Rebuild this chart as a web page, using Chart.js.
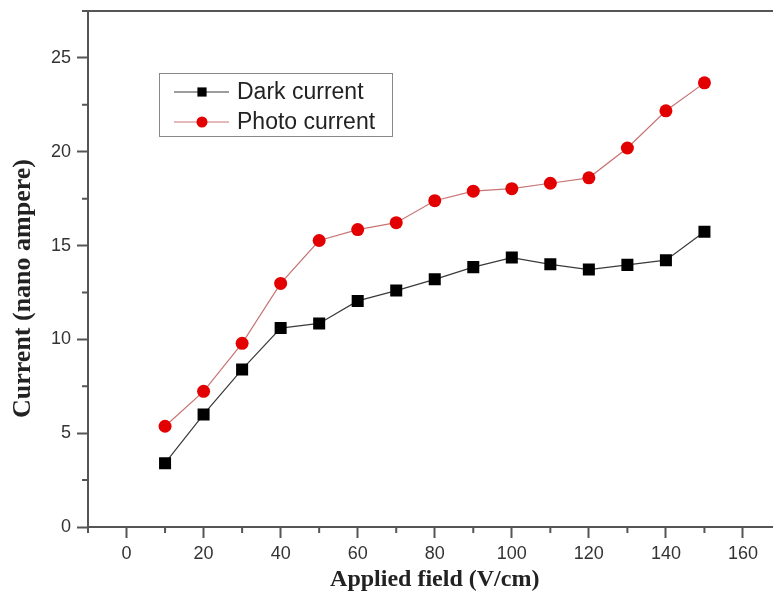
<!DOCTYPE html>
<html>
<head>
<meta charset="utf-8">
<script src="https://cdn.jsdelivr.net/npm/chart.js@4.4.0/dist/chart.umd.min.js"></script>
<style>
  html, body { margin: 0; padding: 0; background: #fff; overflow: hidden; }
  #wrap { width: 790px; height: 608px; }
</style>
</head>
<body>
<div id="wrap"><canvas id="chart" width="790" height="608"></canvas></div>
<script>
// values
const fields = [10, 20, 30, 40, 50, 60, 70, 80, 90, 100, 110, 120, 130, 140, 150];
const darkCurrent = [3.4, 6.0, 8.4, 10.6, 10.85, 12.05, 12.6, 13.2, 13.85, 14.36, 14.0, 13.72, 13.97, 14.22, 15.74];
const photoCurrent = [5.37, 7.23, 9.79, 12.98, 15.27, 15.85, 16.22, 17.39, 17.9, 18.03, 18.32, 18.61, 20.2, 22.18, 23.67];

const xMajor = [0, 20, 40, 60, 80, 100, 120, 140, 160];
const xMinor = [-10, 10, 30, 50, 70, 90, 110, 130, 150, 170];
const yMajor = [0, 5, 10, 15, 20, 25];
const yMinor = [2.5, 7.5, 12.5, 17.5, 22.5, 27.5];

const axisColor = '#555';
const darkLine = '#3a3a3a';
const photoLine = '#c87474';
const photoDot = '#e30000';

// minor ticks, top frame and the boxed legend
const extras = {
  id: 'extras',
  afterDraw(chart) {
    const ctx = chart.ctx;
    const area = chart.chartArea;
    const xs = chart.scales.x;
    const ys = chart.scales.y;
    ctx.save();
    ctx.strokeStyle = axisColor;
    ctx.lineWidth = 2;
    ctx.beginPath();
    ctx.moveTo(area.left - 1, area.top);
    ctx.lineTo(chart.width, area.top);
    xMinor.forEach(v => {
      const px = xs.getPixelForValue(v);
      ctx.moveTo(px, area.bottom);
      ctx.lineTo(px, area.bottom + 6);
    });
    yMinor.forEach(v => {
      const py = ys.getPixelForValue(v);
      ctx.moveTo(area.left, py);
      ctx.lineTo(area.left - 6, py);
    });
    ctx.stroke();

    // legend
    ctx.fillStyle = '#fff';
    ctx.fillRect(159, 73, 233, 63);
    ctx.strokeStyle = '#888';
    ctx.lineWidth = 1;
    ctx.strokeRect(159.5, 73.5, 233, 63);
    const rows = [92, 122];
    chart.data.datasets.forEach((ds, i) => {
      const y = rows[i];
      ctx.strokeStyle = ds.borderColor;
      ctx.lineWidth = 1;
      ctx.beginPath();
      ctx.moveTo(174, y);
      ctx.lineTo(229, y);
      ctx.stroke();
      ctx.fillStyle = ds.pointBackgroundColor;
      Chart.helpers.drawPoint(ctx, {
        pointStyle: ds.pointStyle,
        radius: ds.pointStyle === 'rect' ? 6.5 : 5.5,
        borderWidth: 0
      }, 202, y);
      ctx.fillStyle = '#222';
      ctx.font = '23px "Liberation Sans", Arial, sans-serif';
      ctx.textBaseline = 'middle';
      ctx.fillText(ds.label, 237, y + 1);
    });
    ctx.restore();
  }
};

new Chart(document.getElementById('chart'), {
  type: 'line',
  data: {
    datasets: [{
      label: 'Dark current',
      data: fields.map((f, i) => ({ x: f, y: darkCurrent[i] })),
      borderColor: darkLine,
      borderWidth: 1.2,
      pointStyle: 'rect',
      pointRadius: 8.5,
      pointBackgroundColor: '#000',
      pointBorderWidth: 0,
      tension: 0
    }, {
      label: 'Photo current',
      data: fields.map((f, i) => ({ x: f, y: photoCurrent[i] })),
      borderColor: photoLine,
      borderWidth: 1.2,
      pointStyle: 'circle',
      pointRadius: 6.5,
      pointBackgroundColor: photoDot,
      pointBorderWidth: 0,
      tension: 0
    }]
  },
  options: {
    responsive: false,
    animation: false,
    layout: { padding: { top: 11, right: 8, bottom: 0, left: 0 } },
    plugins: { legend: { display: false }, tooltip: { enabled: false } },
    scales: {
      x: {
        type: 'linear',
        min: -10,
        max: 170,
        afterBuildTicks: s => { s.ticks = xMajor.map(v => ({ value: v })); },
        afterFit: s => { s.height = 81; s.paddingLeft = 0; s.paddingRight = 0; },
        grid: { drawOnChartArea: false, tickLength: 11, tickColor: axisColor, tickWidth: 2 },
        border: { color: axisColor, width: 2 },
        ticks: {
          color: '#333',
          padding: 5,
          maxRotation: 0,
          font: { family: '"Liberation Sans", Arial, sans-serif', size: 18 }
        },
        title: {
          display: true,
          text: 'Applied field (V/cm)',
          color: '#222',
          padding: { top: 0, bottom: 14 },
          font: { family: '"Liberation Serif", "Times New Roman", serif', size: 24, weight: 'bold' }
        }
      },
      y: {
        min: 0,
        max: 27.5,
        afterBuildTicks: s => { s.ticks = yMajor.map(v => ({ value: v })); },
        afterFit: s => { s.width = 88; s.paddingTop = 0; s.paddingBottom = 0; },
        grid: { drawOnChartArea: false, tickLength: 11, tickColor: axisColor, tickWidth: 2 },
        border: { color: axisColor, width: 2 },
        ticks: {
          color: '#333',
          padding: 6,
          font: { family: '"Liberation Sans", Arial, sans-serif', size: 18 }
        },
        title: {
          display: true,
          text: 'Current (nano ampere)\u00a0\u00a0\u00a0\u00a0\u00a0\u00a0',
          color: '#222',
          padding: { top: 8, bottom: 0 },
          font: { family: '"Liberation Serif", "Times New Roman", serif', size: 26, weight: 'bold' }
        }
      }
    }
  },
  plugins: [extras]
});
</script>
</body>
</html>
